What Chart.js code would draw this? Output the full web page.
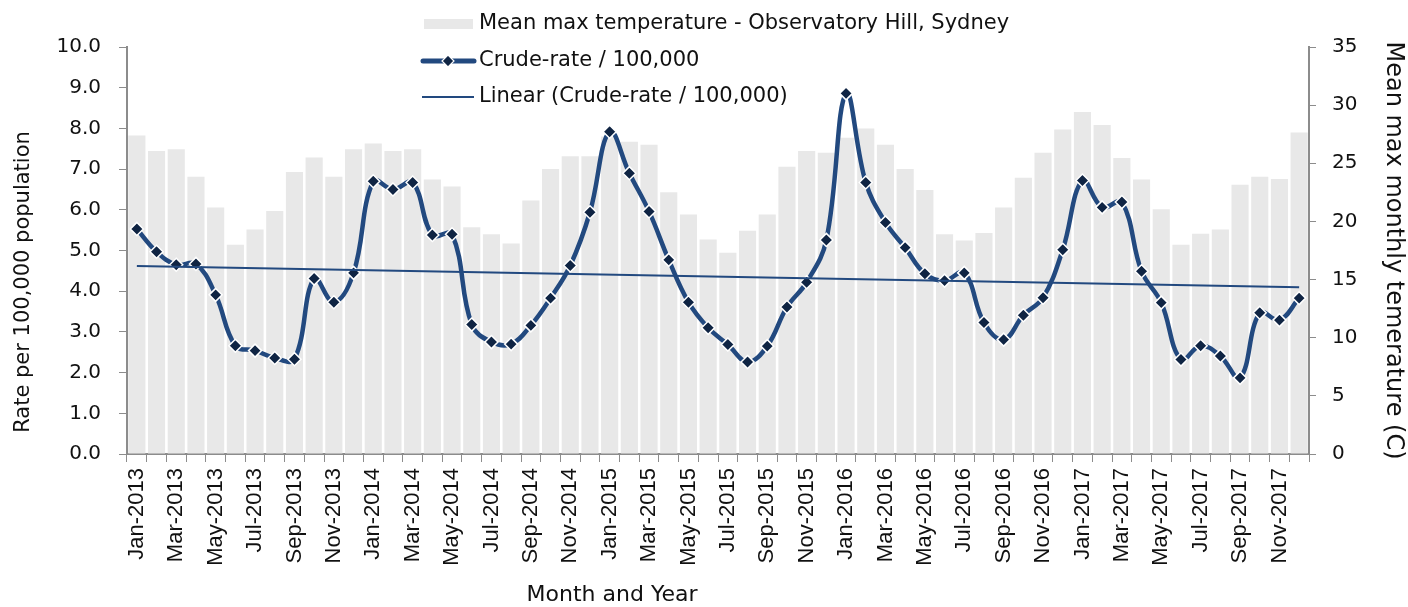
<!DOCTYPE html>
<html>
<head>
<meta charset="utf-8">
<script src="https://cdn.jsdelivr.net/npm/chart.js@4/dist/chart.umd.min.js"></script>
<style>
html,body{margin:0;padding:0;background:#fff;}
#wrap{width:1408px;height:607px;position:relative;}
</style>
</head>
<body>
<div id="wrap"><canvas id="c" width="1408" height="607"></canvas></div>
<script>
const monthNames = ['Jan','Feb','Mar','Apr','May','Jun','Jul','Aug','Sep','Oct','Nov','Dec'];
const years = [2013, 2014, 2015, 2016, 2017];
const categories = [];
years.forEach(y => monthNames.forEach(m => categories.push(m + '-' + y)));

const crudeRate = [
  5.53,4.97,4.65,4.67,3.91,2.66,2.54,2.36,2.33,4.31,3.73,4.45,
  6.70,6.50,6.67,5.38,5.40,3.18,2.75,2.70,3.16,3.83,4.63,5.94,
  7.92,6.90,5.96,4.77,3.73,3.10,2.69,2.26,2.65,3.61,4.22,5.26,
  8.86,6.67,5.69,5.07,4.43,4.26,4.45,3.23,2.81,3.41,3.84,5.02,
  6.72,6.06,6.19,4.49,3.72,2.32,2.66,2.41,1.87,3.47,3.29,3.83
];
const meanMaxTemp = [
  27.4,26.05,26.2,23.85,21.2,18.0,19.3,20.9,24.25,25.5,23.85,26.2,
  26.7,26.05,26.2,23.6,23.0,19.5,18.9,18.1,21.8,24.5,25.6,25.6,
  27.3,26.85,26.6,22.5,20.6,18.45,17.3,19.2,20.6,24.7,26.05,25.9,
  27.2,28.0,26.6,24.5,22.7,18.9,18.35,19.0,21.2,23.75,25.9,27.9,
  29.4,28.3,25.45,23.6,21.05,18.0,18.95,19.3,23.15,23.85,23.65,27.65
];
// Linear trend line end points
const trendStart = 4.62;
const trendEnd = 4.10;
const trendLine = categories.map((_, i) => i === 0 ? trendStart : (i === categories.length - 1 ? trendEnd : null));

const leftTicks = [0,1,2,3,4,5,6,7,8,9,10];
const rightTicks = [0,5,10,15,20,25,30,35];

const legendLabels = [
  'Mean max temperature - Observatory Hill, Sydney',
  'Crude-rate / 100,000',
  'Linear (Crude-rate / 100,000)'
];
const xTitle = 'Month and Year';
const yTitle = 'Rate per 100,000 population';
const y1Title = 'Mean max monthly temerature (C)';

const FONT = '"DejaVu Sans", Verdana, sans-serif';
const LINE_COLOR = '#22497f';
const MARK_COLOR = '#0f2443';
const BAR_COLOR = '#e8e8e8';
const AXIS_COLOR = '#8c8c8c';

const customLegend = {
  id: 'customLegend',
  afterDraw(chart) {
    const ctx = chart.ctx;
    ctx.save();
    ctx.font = '21px ' + FONT;
    ctx.fillStyle = '#111';
    ctx.textBaseline = 'middle';
    ctx.textAlign = 'left';
    const tx = 479;
    const rows = [24, 61, 97];
    // row 1: bar swatch
    ctx.fillStyle = BAR_COLOR;
    ctx.fillRect(424, 19, 49, 10);
    ctx.fillStyle = '#111';
    ctx.fillText(legendLabels[0], tx, rows[0]);
    // row 2: thick line with diamond
    ctx.strokeStyle = LINE_COLOR;
    ctx.lineWidth = 5;
    ctx.lineCap = 'round';
    ctx.beginPath(); ctx.moveTo(423, rows[1]); ctx.lineTo(474, rows[1]); ctx.stroke();
    ctx.fillStyle = MARK_COLOR;
    ctx.strokeStyle = '#fff';
    ctx.lineWidth = 1.2;
    ctx.beginPath();
    ctx.moveTo(448, rows[1] - 6); ctx.lineTo(454, rows[1]); ctx.lineTo(448, rows[1] + 6); ctx.lineTo(442, rows[1]); ctx.closePath();
    ctx.fill(); ctx.stroke();
    ctx.fillStyle = '#111';
    ctx.fillText(legendLabels[1], tx, rows[1]);
    // row 3: thin line
    ctx.strokeStyle = LINE_COLOR;
    ctx.lineWidth = 2;
    ctx.lineCap = 'butt';
    ctx.beginPath(); ctx.moveTo(422, rows[2]); ctx.lineTo(474, rows[2]); ctx.stroke();
    ctx.fillText(legendLabels[2], tx, rows[2]);
    // x-axis title
    ctx.font = '22px ' + FONT;
    ctx.textAlign = 'center';
    ctx.fillText(xTitle, 612, 595);
    // left y-axis title
    ctx.font = '21px ' + FONT;
    ctx.translate(24, 282);
    ctx.rotate(-Math.PI / 2);
    ctx.fillText(yTitle, 0, 0);
    ctx.restore();
  }
};

new Chart(document.getElementById('c'), {
  type: 'bar',
  data: {
    labels: categories,
    datasets: [
      {
        type: 'line',
        label: legendLabels[1],
        data: crudeRate,
        yAxisID: 'y',
        borderColor: LINE_COLOR,
        borderWidth: 4.5,
        tension: 0.4,
        pointStyle: 'rectRot',
        pointRadius: 6.5,
        pointBackgroundColor: MARK_COLOR,
        pointBorderColor: '#ffffff',
        pointBorderWidth: 1.5,
        order: 2
      },
      {
        type: 'line',
        label: legendLabels[2],
        data: trendLine,
        yAxisID: 'y',
        borderColor: LINE_COLOR,
        borderWidth: 2,
        pointRadius: 0,
        spanGaps: true,
        tension: 0,
        order: 1
      },
      {
        type: 'bar',
        label: legendLabels[0],
        data: meanMaxTemp,
        yAxisID: 'y1',
        backgroundColor: BAR_COLOR,
        borderWidth: 0,
        barPercentage: 0.87,
        categoryPercentage: 1.0,
        order: 3
      }
    ]
  },
  options: {
    responsive: false,
    animation: false,
    events: [],
    layout: { padding: { top: 47, left: 0, right: 0, bottom: 0 } },
    plugins: {
      legend: { display: false },
      tooltip: { enabled: false }
    },
    scales: {
      x: {
        type: 'category',
        offset: true,
        grid: {
          offset: true,
          drawOnChartArea: false,
          drawTicks: true,
          tickLength: 8,
          color: AXIS_COLOR,
          lineWidth: 1
        },
        border: { display: true, color: AXIS_COLOR, width: 2 },
        ticks: {
          autoSkip: false,
          maxRotation: 90,
          minRotation: 90,
          padding: 6,
          color: '#111',
          font: { family: '"Liberation Sans", Arial, sans-serif', size: 22 },
          callback: function(v, i) { return i % 2 === 0 ? categories[i] : ''; }
        },
        title: { display: false },
        afterFit(scale) { scale.height = 153; }
      },
      y: {
        position: 'left',
        min: 0,
        max: 10,
        afterBuildTicks(scale) { scale.ticks = leftTicks.map(v => ({ value: v })); },
        grid: {
          drawOnChartArea: false,
          drawTicks: true,
          tickLength: 8,
          color: AXIS_COLOR
        },
        border: { display: true, color: AXIS_COLOR, width: 2 },
        ticks: {
          color: '#111',
          padding: 18,
          font: { family: FONT, size: 20 },
          callback: v => Number(v).toFixed(1)
        },
        title: { display: false },
        afterFit(scale) { scale.width = 127; }
      },
      y1: {
        position: 'right',
        min: 0,
        max: 35,
        afterBuildTicks(scale) { scale.ticks = rightTicks.map(v => ({ value: v })); },
        grid: {
          drawOnChartArea: false,
          drawTicks: true,
          tickLength: 7,
          color: AXIS_COLOR
        },
        border: { display: true, color: AXIS_COLOR, width: 2 },
        ticks: {
          color: '#111',
          padding: 16,
          font: { family: FONT, size: 20 },
          callback: v => String(v)
        },
        title: {
          display: true,
          text: y1Title,
          color: '#111',
          font: { family: FONT, size: 24 },
          padding: { top: 0, bottom: 0 }
        },
        afterFit(scale) { scale.width = 99; }
      }
    }
  },
  plugins: [customLegend]
});
</script>
</body>
</html>
